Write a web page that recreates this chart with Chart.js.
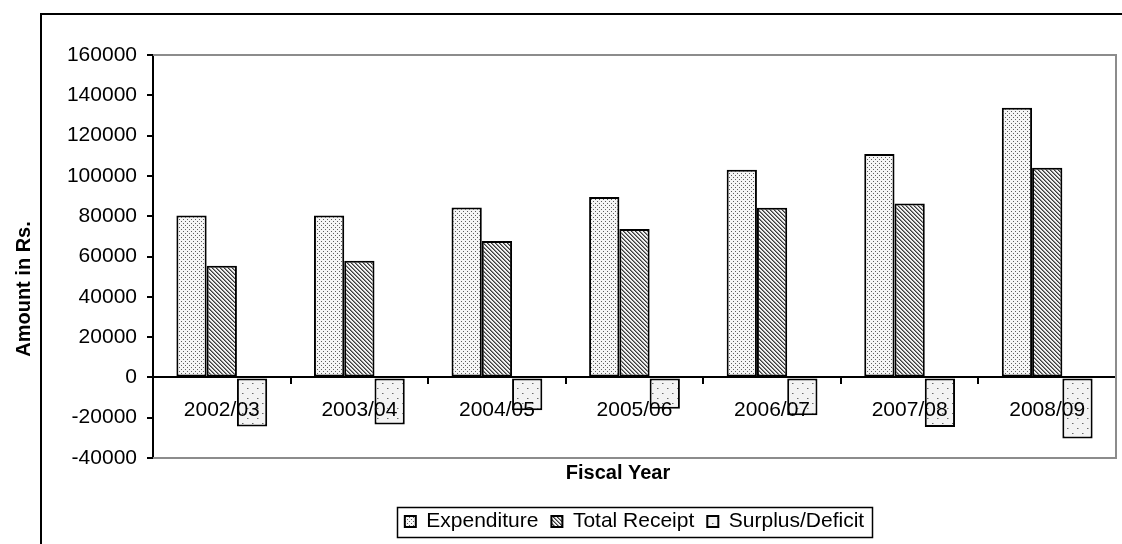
<!DOCTYPE html>
<html>
<head>
<meta charset="utf-8">
<script src="https://cdn.jsdelivr.net/npm/chart.js@4.4.1/dist/chart.umd.min.js"></script>
<style>
  html, body { margin: 0; padding: 0; background: #fff; overflow: hidden; }
  #wrap { position: relative; width: 1122px; height: 544px; }
</style>
</head>
<body>
<div id="wrap"><canvas id="chart" width="1122" height="544"></canvas></div>
<script>
// Fiscal years on the category axis
const categories = ['2002/03', '2003/04', '2004/05', '2005/06', '2006/07', '2007/08', '2008/09'];

// Amounts in Rs.
const expenditure    = [80300, 80300, 84300, 89500, 103000, 110900, 133800];
const totalReceipt   = [55400, 57900, 67700, 73600, 84200, 86300, 104100];
const surplusDeficit = [-24400, -23400, -16300, -15500, -18800, -24600, -30300];

// Value axis range and step
const yMin = -40000;
const yMax = 160000;
const yStep = 20000;

const FONT = '"Liberation Sans", Arial, sans-serif';

// Monochrome fill patterns for the three series
function makePattern(size, paint) {
  const c = document.createElement('canvas');
  c.width = size[0];
  c.height = size[1];
  const g = c.getContext('2d');
  paint(g, size[0], size[1]);
  return document.createElement('canvas').getContext('2d').createPattern(c, 'repeat');
}

const dotsFine = makePattern([4, 4], (g, w, h) => {
  g.fillStyle = '#f6f6f6';
  g.fillRect(0, 0, w, h);
  g.fillStyle = '#5e5e5e';
  g.fillRect(1, 1, 1, 1);
  g.fillRect(3, 3, 1, 1);
});

const stripes = makePattern([4, 4], (g, w, h) => {
  for (let y = 0; y < h; y++) {
    for (let x = 0; x < w; x++) {
      const k = ((x - y) % 4 + 4) % 4;
      g.fillStyle = k === 0 ? '#3c3c3c' : (k === 1 ? '#8a8a8a' : '#f2f2f2');
      g.fillRect(x, y, 1, 1);
    }
  }
});

const dotsSparse = makePattern([10, 10], (g, w, h) => {
  g.fillStyle = '#f3f3f3';
  g.fillRect(0, 0, w, h);
  g.fillStyle = '#6a6a6a';
  g.fillRect(2, 3, 1, 1);
  g.fillRect(7, 8, 1, 1);
  g.fillStyle = '#b0b0b0';
  g.fillRect(3, 3, 1, 1);
  g.fillRect(8, 8, 1, 1);
});

// Frame around the whole figure, grey plot border, y-axis title and legend box
const decorations = {
  id: 'decorations',
  afterDraw(chart) {
    const { ctx, chartArea: a, legend } = chart;
    ctx.save();

    // plot area outline (top, right, bottom)
    ctx.strokeStyle = '#8c8c8c';
    ctx.lineWidth = 2;
    ctx.beginPath();
    ctx.moveTo(a.left, a.top);
    ctx.lineTo(a.right, a.top);
    ctx.lineTo(a.right, a.bottom);
    ctx.lineTo(a.left, a.bottom);
    ctx.stroke();

    // outer frame
    ctx.strokeStyle = '#000';
    ctx.lineWidth = 2;
    ctx.beginPath();
    ctx.moveTo(41, chart.height + 5);
    ctx.lineTo(41, 14);
    ctx.lineTo(chart.width + 5, 14);
    ctx.stroke();

    // value axis title
    ctx.fillStyle = '#000';
    ctx.font = 'bold 20px ' + FONT;
    ctx.textAlign = 'center';
    ctx.textBaseline = 'middle';
    ctx.translate(24, 289);
    ctx.rotate(-Math.PI / 2);
    ctx.fillText('Amount in Rs.', 0, 0);
    ctx.setTransform(1, 0, 0, 1, 0, 0);

    // legend frame
    const boxes = legend.legendHitBoxes;
    if (boxes && boxes.length) {
      const l = Math.min(...boxes.map(b => b.left)) - 8;
      const r = Math.max(...boxes.map(b => b.left + b.width)) + 8;
      const cy = boxes[0].top + boxes[0].height / 2;
      ctx.strokeStyle = '#000';
      ctx.lineWidth = 1.5;
      ctx.strokeRect(Math.round(l) + 0.5, Math.round(cy - 15) + 0.5, Math.round(r - l), 30);
    }
    ctx.restore();
  }
};

const barStyle = { borderColor: '#000', borderWidth: 2, borderSkipped: false };

new Chart(document.getElementById('chart'), {
  type: 'bar',
  data: {
    labels: categories,
    datasets: [
      { label: 'Expenditure', data: expenditure, backgroundColor: dotsFine, ...barStyle },
      { label: 'Total Receipt', data: totalReceipt, backgroundColor: stripes, ...barStyle },
      { label: 'Surplus/Deficit', data: surplusDeficit, backgroundColor: dotsSparse, ...barStyle }
    ]
  },
  options: {
    responsive: false,
    animation: false,
    devicePixelRatio: 1,
    datasets: { bar: { categoryPercentage: 0.66, barPercentage: 1.0 } },
    // the figure continues past the right edge of the window
    layout: { padding: { top: 55, left: 0, right: -114, bottom: 2 } },
    scales: {
      x: {
        position: { y: 0 },
        offset: true,
        grid: {
          display: true,
          drawOnChartArea: false,
          drawTicks: true,
          tickLength: 6,
          color: '#000',
          lineWidth: 2,
          offset: true,
          z: 1
        },
        border: { display: true, color: '#000', width: 2, z: 1 },
        ticks: {
          color: '#000',
          font: { family: FONT, size: 21 },
          padding: 14,
          maxRotation: 0,
          autoSkip: false,
          z: 1
        }
      },
      y: {
        min: yMin,
        max: yMax,
        afterFit(scale) { scale.width = 153; },
        grid: {
          display: true,
          drawOnChartArea: false,
          drawTicks: true,
          tickLength: 6,
          color: '#000',
          lineWidth: 2
        },
        border: { display: true, color: '#000', width: 2 },
        ticks: {
          stepSize: yStep,
          color: '#000',
          font: { family: FONT, size: 21 },
          padding: 10,
          callback: v => String(v)
        }
      },
      // blank margin to the right of the plot area
      margin: {
        type: 'linear',
        position: 'right',
        afterFit(scale) { scale.width = 120; },
        grid: { display: false },
        border: { display: false },
        ticks: { display: false }
      }
    },
    plugins: {
      tooltip: { enabled: false },
      title: {
        display: true,
        text: 'Fiscal Year',
        position: 'bottom',
        weight: 500,
        fullSize: true,
        color: '#000',
        font: { family: FONT, size: 20, weight: 'bold' },
        padding: { top: 3, bottom: 13 }
      },
      legend: {
        display: true,
        position: 'bottom',
        fullSize: false,
        labels: {
          color: '#000',
          font: { family: FONT, size: 21 },
          boxWidth: 11,
          boxHeight: 11,
          padding: 13
        }
      }
    }
  },
  plugins: [decorations]
});
</script>
</body>
</html>
